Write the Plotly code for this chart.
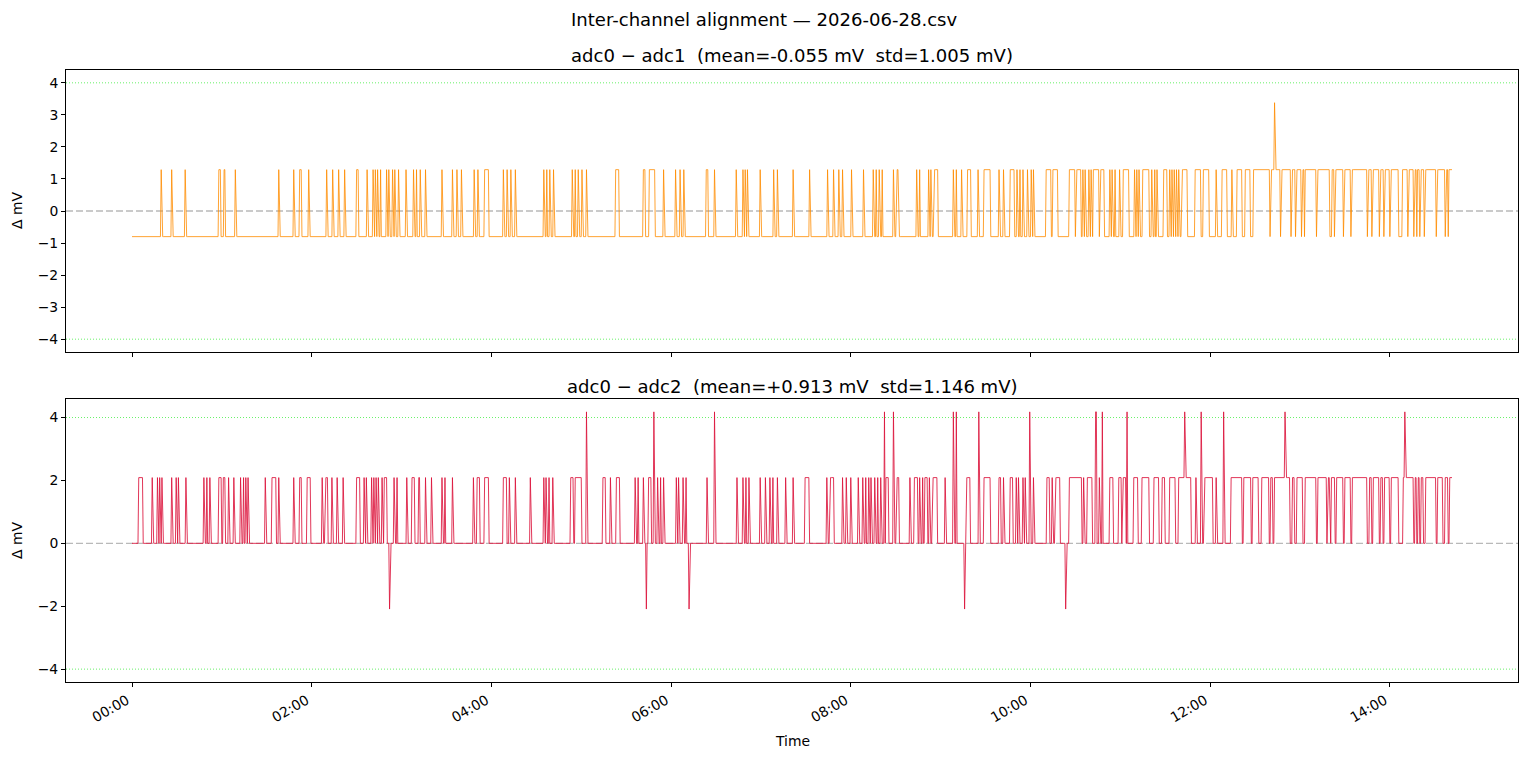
import numpy as np
import pandas as pd
import plotly.graph_objects as go

# ---------------- data (minutes after midnight, 30 s sampling) ----------------
DATE = "2026-06-28"
END_MIN = 881.5
STEP_MIN = 0.5

TOP_LEVELS = {"low": -0.80, "high": 1.29, "peak": 3.38}
BOT_LEVELS = {"low": 0.0, "high": 2.09, "peak": 4.18, "neg": -2.09}

TOP_HIGH = [
    [19.5, 19.5], [26.5, 26.5], [35.5, 35.5], [58, 59], [61.5, 62], [69, 69], [98, 98], [108, 108],
    [112, 113], [118, 118], [130, 130], [134, 134], [138, 138], [142, 142], [150, 151], [157, 157],
    [161, 161], [162.5, 162.5], [164, 164], [166, 166], [170, 170], [171.5, 171.5], [174, 174],
    [175.5, 175.5], [178, 178], [183, 183], [188, 188], [190, 190], [192.5, 192.5], [196, 196],
    [207, 207], [214, 214], [217, 217], [220, 220], [228.5, 228.5], [231, 231], [235.5, 238],
    [248, 248], [250.5, 250.5], [253, 253], [256, 256], [275, 275], [277, 277], [279, 279],
    [281.5, 281.5], [294, 294], [296, 296], [298, 298], [300.5, 300.5], [303.5, 303.5],
    [323, 325], [341.5, 342.5], [345.5, 349], [355, 355], [363, 363], [366, 366], [368.5, 368.5],
    [383.5, 384.5], [389, 389], [403.5, 403.5], [408, 408], [409.5, 409.5], [411, 411],
    [419.5, 419.5], [428.5, 428.5], [431, 431], [441.5, 441.5], [452.5, 452.5], [464.5, 464.5],
    [468.5, 468.5], [472, 472], [474.5, 474.5], [480.5, 480.5], [488.5, 488.5], [495, 495],
    [497, 497], [499, 499], [501, 501], [508.5, 508.5], [510.5, 511.5], [524, 524], [526, 526],
    [532, 532], [533.5, 533.5], [535.5, 538], [548.5, 548.5], [550.5, 550.5], [554, 554],
    [558, 560], [565, 565], [569, 573], [579, 579], [582, 582], [586.5, 589], [591, 591],
    [593, 593], [595, 595], [598, 598], [600.5, 600.5], [602, 602], [610.5, 613.5], [615, 618],
    [626, 629.5], [630.5, 633.5], [635, 635], [636.5, 636.5], [639, 639], [640.5, 640.5],
    [642, 645.5], [646.5, 649], [653, 653], [654.5, 654.5], [656.5, 656.5], [659.5, 659.5],
    [662, 665.5], [669.5, 669.5], [671, 671], [672.5, 672.5], [675, 679], [681, 681], [683, 683],
    [684.5, 684.5], [689, 691], [693, 693], [694.5, 694.5], [696, 696], [697.5, 697.5], [699, 699],
    [701, 704.5], [710, 713.5], [715.5, 719], [724, 724], [728, 731], [734.5, 734.5], [738, 741],
    [743.5, 746.5], [749, 881.5],
]
TOP_DIPS = [
    [760, 760], [767, 767], [774, 774], [777, 777], [781, 781], [783, 783], [791, 791], [800, 801],
    [803, 803], [809, 809], [814, 814], [825, 825], [828, 828], [833, 833], [836, 836], [840, 840],
    [846, 848], [852, 852], [856, 856], [858, 858], [860, 860], [863, 863], [871, 871], [877, 877],
    [879, 879],
]
TOP_PEAK = [[763, 763]]

BOT_HIGH = [
    [4.5, 7], [13.5, 13.5], [17, 17], [18.5, 18.5], [20, 20], [26.5, 26.5], [29.5, 29.5], [31, 31],
    [36, 36], [48, 48], [50, 50], [52, 52], [58, 59.5], [61, 62], [64.5, 64.5], [68, 68],
    [72.5, 72.5], [74.5, 74.5], [76, 76], [77.5, 77.5], [89, 89], [93.5, 96], [98, 98], [108, 108],
    [112, 113], [117, 119], [127, 127], [129, 130.5], [133.5, 133.5], [137, 137], [141, 141],
    [150, 152], [155, 155], [156.5, 156.5], [160, 160], [161.5, 161.5], [163, 163], [164.5, 164.5],
    [167, 167], [168.5, 170], [175, 175], [177, 177], [183.5, 183.5], [187, 188.5], [191.5, 192],
    [196, 196], [200, 200], [207, 207], [209, 209], [214, 214], [228, 228], [230.5, 232],
    [235.5, 238], [248, 250], [252, 252], [256, 256], [266, 266], [275, 275], [276.5, 276.5],
    [278.5, 278.5], [281, 281], [293, 294.5], [296, 300], [314.5, 316], [319.5, 319.5],
    [323.5, 325.5], [336, 336], [338, 338], [341.5, 341.5], [345, 346.5], [351, 351], [353, 353],
    [355, 355], [363.5, 363.5], [365, 365], [368, 368], [370, 370], [384, 384], [404, 404],
    [408, 408], [410, 410], [412, 412], [419.5, 419.5], [423, 423], [426, 426], [428, 428],
    [431, 431], [436.5, 436.5], [441.5, 441.5], [449.5, 452], [464, 464], [466, 468.5],
    [474.5, 474.5], [477, 477], [480, 480], [485, 485], [488, 488], [490, 490], [492, 492],
    [493.5, 493.5], [496, 496], [498, 498], [500, 500], [503.5, 505], [510.5, 512], [519.5, 519.5],
    [522.5, 524.5], [526, 526], [528, 528], [529.5, 531], [532.5, 532.5], [534.5, 537.5], [543, 543],
    [557.5, 559.5], [569, 573], [579, 580], [582, 582], [586.5, 588], [590.5, 590.5], [592, 592],
    [595, 595], [596.5, 596.5], [602, 602], [611, 612.5], [614.5, 614.5], [616.5, 619.5], [626, 634],
    [635.5, 635.5], [638, 641], [646, 646], [653, 655], [659, 660.5], [661.5, 663.5], [669, 671.5],
    [674.5, 679], [682.5, 685.5], [688, 689.5], [693, 696.5], [699, 702.5], [703.5, 707],
    [710.5, 710.5], [716, 721.5], [724, 724], [734, 741], [742.5, 747], [748.5, 752], [754.5, 759],
    [760.5, 761.5], [763, 769.5], [770.5, 773], [775, 776], [778, 781.5], [783.5, 790.5],
    [792, 797.5], [798.5, 799.5], [801, 803], [804.5, 808.5], [810, 813.5], [815, 824.5],
    [826.5, 827.5], [829, 832.5], [834, 835], [836.5, 839.5], [841, 845.5], [849, 849.5],
    [850.5, 855.5], [857, 857.5], [859, 859.5], [861, 862], [864, 870.5], [872, 875], [877, 878.5],
    [880, 881.5],
]
BOT_PEAK = [
    [303.5, 303.5], [348.5, 348.5], [389, 389], [502.5, 502.5], [508.5, 508.5], [548.5, 548.5],
    [550.5, 550.5], [565.5, 565.5], [599.5, 599.5], [643.5, 644], [648, 648], [664.5, 664.5],
    [703, 703], [714, 714], [729, 729], [770, 770], [850, 850],
]
BOT_NEG = [[172, 172], [343.5, 343.5], [372, 372], [556, 556], [623.5, 623.5]]

TITLE = "Inter-channel alignment — 2026-06-28.csv"
TITLE_TOP = "adc0 − adc1  (mean=-0.055 mV  std=1.005 mV)"
TITLE_BOT = "adc0 − adc2  (mean=+0.913 mV  std=1.146 mV)"
TICK_HOURS = [0, 2, 4, 6, 8, 10, 12, 14]

# ---------------- build series ----------------
minutes = np.arange(0, END_MIN + STEP_MIN / 2, STEP_MIN)
n = len(minutes)


def idx(m):
    return int(round(m / STEP_MIN))


def paint(arr, intervals, value):
    for a, b in intervals:
        arr[idx(a):idx(b) + 1] = value


top = np.full(n, TOP_LEVELS["low"])
paint(top, TOP_HIGH, TOP_LEVELS["high"])
paint(top, TOP_DIPS, TOP_LEVELS["low"])
paint(top, TOP_PEAK, TOP_LEVELS["peak"])

bot = np.full(n, BOT_LEVELS["low"])
paint(bot, BOT_HIGH, BOT_LEVELS["high"])
paint(bot, BOT_PEAK, BOT_LEVELS["peak"])
paint(bot, BOT_NEG, BOT_LEVELS["neg"])

base = pd.Timestamp(DATE)
x = base + pd.to_timedelta(minutes, unit="min")

margin = 0.05 * END_MIN
xr = [base + pd.Timedelta(minutes=-margin), base + pd.Timedelta(minutes=END_MIN + margin)]
xr = [v.strftime("%Y-%m-%d %H:%M:%S.%f") for v in xr]

# ---------------- figure ----------------
FONT = "DejaVu Sans"
TICK_SIZE = 13.9
TITLE_SIZE = 18.06

fig = go.Figure()
fig.add_trace(go.Scatter(x=x, y=top, mode="lines", xaxis="x", yaxis="y",
                         line=dict(color="rgba(255,140,0,0.8)", width=1), showlegend=False))
fig.add_trace(go.Scatter(x=x, y=bot, mode="lines", xaxis="x2", yaxis="y2",
                         line=dict(color="rgba(220,20,60,0.85)", width=1), showlegend=False))

tickvals = [base + pd.Timedelta(hours=h) for h in TICK_HOURS]
ticktext = [f"{h:02d}:00" for h in TICK_HOURS]

ax_common = dict(showline=True, linecolor="black", linewidth=1, mirror=True, ticks="outside",
                 ticklen=4, tickcolor="black", showgrid=False, zeroline=False,
                 tickfont=dict(family=FONT, size=TICK_SIZE, color="black"))

H_TOP = 70; H_TOP_B = 352; H_BOT_T = 399; H_BOT = 682
L = 66; R = 1518
PH = H_BOT - H_TOP


def py(p):
    return (H_BOT - p) / PH


fig.update_layout(
    width=1529, height=760,
    margin=dict(l=L, r=1529 - R, t=H_TOP, b=760 - H_BOT, autoexpand=False),
    paper_bgcolor="white", plot_bgcolor="white",
    font=dict(family=FONT, color="black"),
    xaxis=dict(domain=[0, 1], anchor="y", range=xr, type="date", tickvals=tickvals,
               ticktext=ticktext, showticklabels=False, matches="x2", **ax_common),
    xaxis2=dict(domain=[0, 1], anchor="y2", range=xr, type="date", tickvals=tickvals,
                ticktext=ticktext, tickangle=-30, ticklabelshift=-5, **ax_common),
    yaxis=dict(domain=[py(H_TOP_B), 1], anchor="x", range=[-4.4, 4.4],
               tickvals=[-4, -3, -2, -1, 0, 1, 2, 3, 4], **ax_common),
    yaxis2=dict(domain=[0, py(H_BOT_T)], anchor="x2", range=[-4.409, 4.589],
                tickvals=[-4, -2, 0, 2, 4], **ax_common),
)

shapes = []
for xref, yref in (("x domain", "y"), ("x2 domain", "y2")):
    shapes.append(dict(type="line", xref=xref, yref=yref, x0=0, x1=1, y0=0, y1=0, layer="below",
                       line=dict(color="rgba(128,128,128,0.55)", width=1.3, dash="7px,3px")))
    for yv in (4, -4):
        shapes.append(dict(type="line", xref=xref, yref=yref, x0=0, x1=1, y0=yv, y1=yv,
                           layer="below",
                           line=dict(color="rgba(40,235,40,0.7)", width=1, dash="1px,2px")))
fig.update_layout(shapes=shapes)

nb = lambda s: s.replace("  ", "\u00a0\u00a0")
ann = [
    dict(text=TITLE, x=(764 - L) / (R - L), y=py(19), xref="paper", yref="paper",
         showarrow=False, font=dict(family=FONT, size=TITLE_SIZE), xanchor="center", yanchor="middle"),
    dict(text=nb(TITLE_TOP), x=0.5, y=py(55), xref="paper", yref="paper",
         showarrow=False, font=dict(family=FONT, size=TITLE_SIZE), xanchor="center", yanchor="middle"),
    dict(text=nb(TITLE_BOT), x=0.5, y=py(387), xref="paper", yref="paper",
         showarrow=False, font=dict(family=FONT, size=TITLE_SIZE), xanchor="center", yanchor="middle"),
    dict(text="Time", x=0.5, y=py(741), xref="paper", yref="paper",
         showarrow=False, font=dict(family=FONT, size=TICK_SIZE), xanchor="center", yanchor="middle"),
    dict(text="Δ mV", x=(17 - L) / (R - L), y=py(211), xref="paper", yref="paper", textangle=-90,
         showarrow=False, font=dict(family=FONT, size=TICK_SIZE), xanchor="center", yanchor="middle"),
    dict(text="Δ mV", x=(17 - L) / (R - L), y=py(541), xref="paper", yref="paper", textangle=-90,
         showarrow=False, font=dict(family=FONT, size=TICK_SIZE), xanchor="center", yanchor="middle"),
]
fig.update_layout(annotations=ann)

fig.write_html("out.html", config={"displayModeBar": False},
               post_script="document.body.style.margin='0';")
